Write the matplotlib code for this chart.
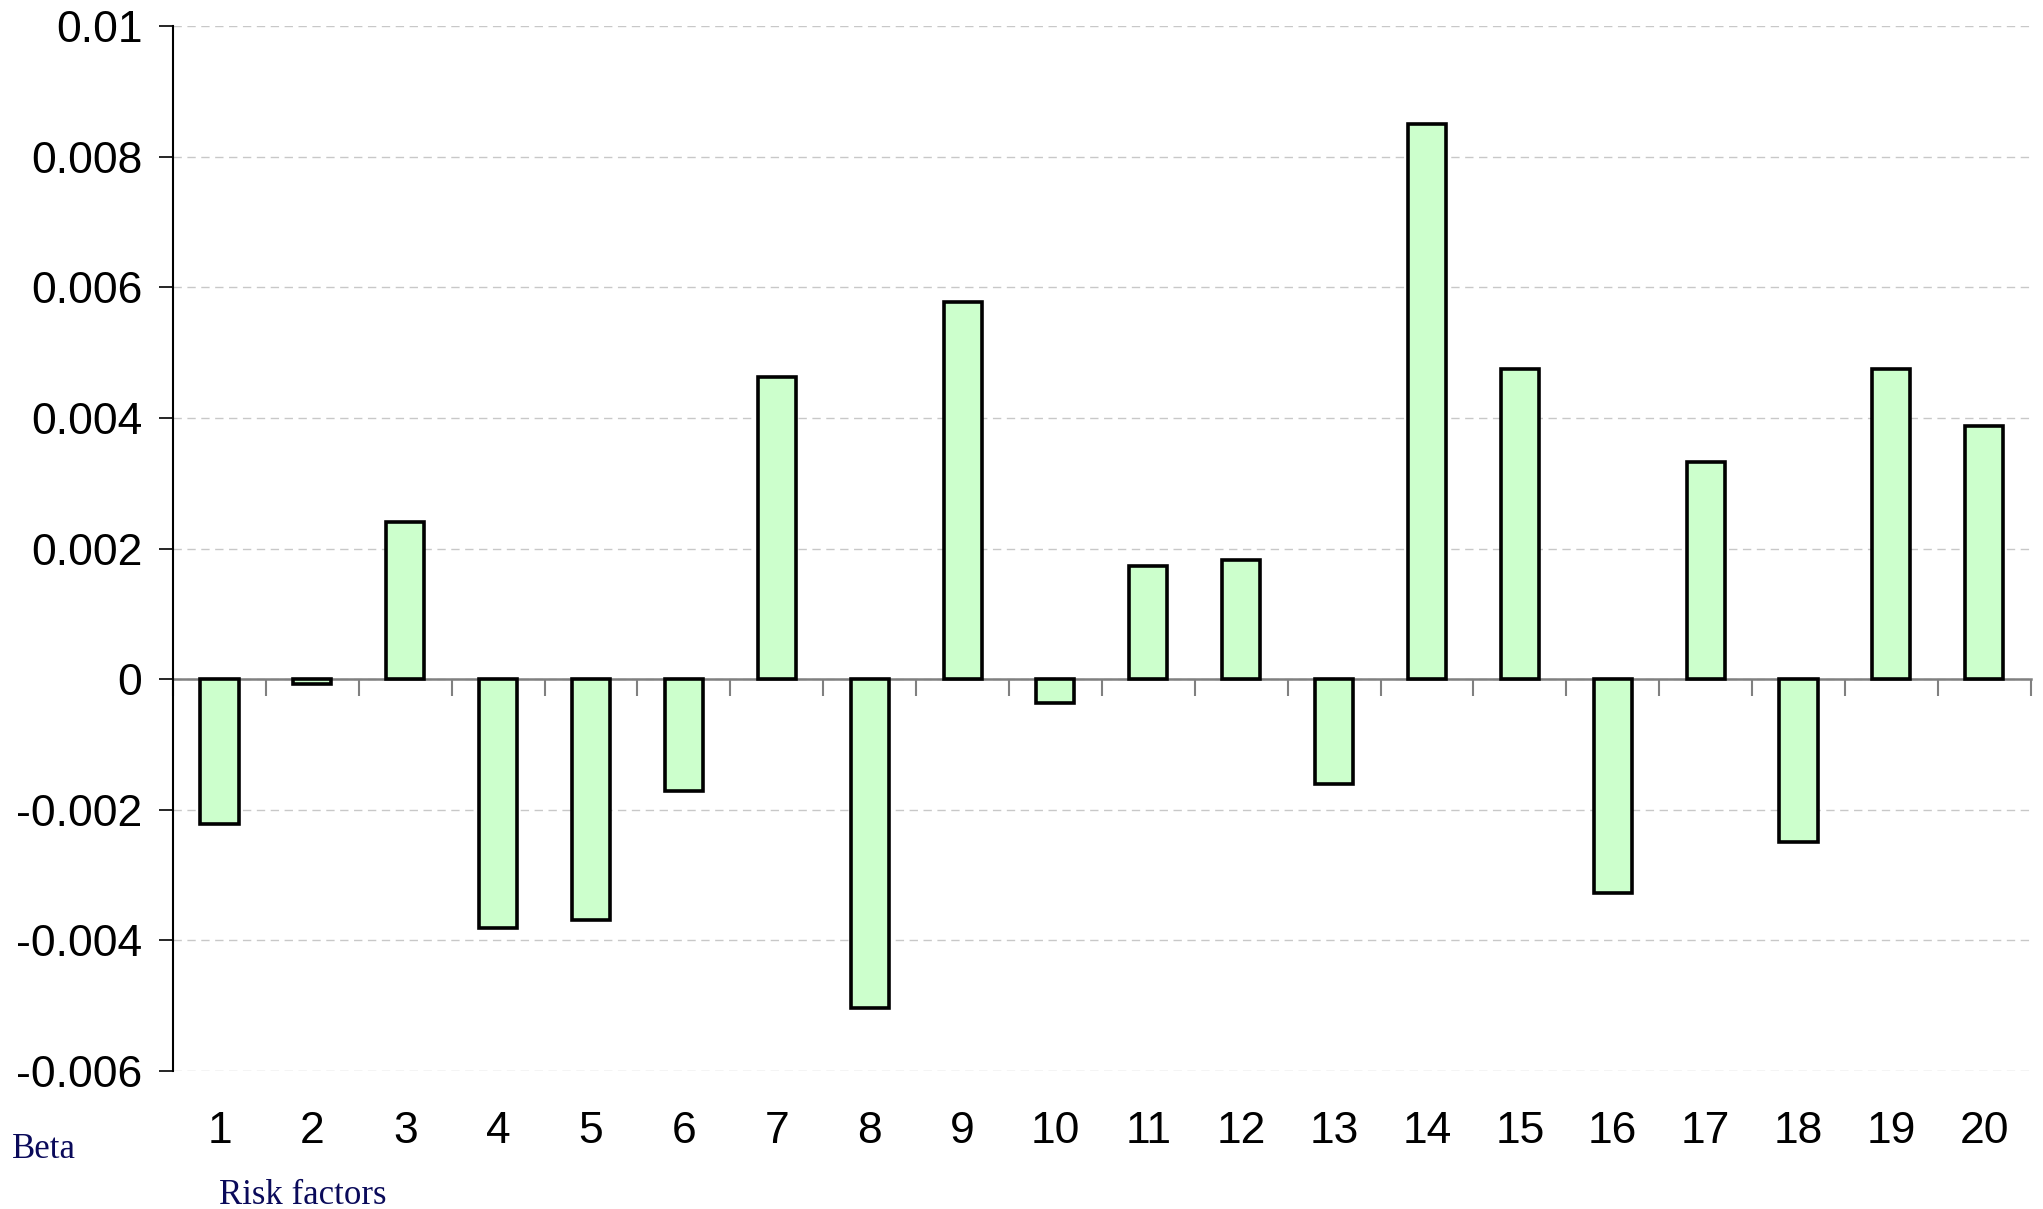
import numpy as np
import matplotlib
matplotlib.use("Agg")
import matplotlib.pyplot as plt

# Data
factors = list(range(1, 21))
beta = [-0.00222, -0.00008, 0.0024, -0.00381, -0.00369, -0.00172, 0.00463, -0.00503,
        0.00577, -0.00036, 0.00174, 0.00182, -0.0016, 0.0085, 0.00475, -0.00327,
        0.00333, -0.0025, 0.00475, 0.00387]
yticks = [-0.006, -0.004, -0.002, 0, 0.002, 0.004, 0.006, 0.008, 0.01]
ytick_labels = ["-0.006", "-0.004", "-0.002", "0", "0.002", "0.004", "0.006", "0.008", "0.01"]

plt.rcParams['font.family'] = ['Liberation Sans', 'DejaVu Sans']

fig = plt.figure(figsize=(20.43, 12.09), dpi=100)
ax = fig.add_axes([0.0847, 0.1141, 0.9093, 0.8644])

ax.bar(factors, beta, width=0.41, color='#CCFFCC', edgecolor='black', linewidth=2.6, zorder=3)

ax.set_xlim(0.5, 20.5)
ax.set_ylim(-0.006, 0.01)

# y axis
ax.set_yticks(yticks)
ax.set_yticklabels(ytick_labels, fontsize=32)
ax.tick_params(axis='y', direction='out', length=10, width=1.2, color='black', pad=12)
ax.yaxis.grid(True, linestyle=(0, (6, 4)), color='#c8c8c8', linewidth=1.0, zorder=0)

for s in ['top', 'right']:
    ax.spines[s].set_visible(False)
ax.spines['left'].set_linewidth(1.5)
ax.spines['left'].set_color('black')

# x axis line at zero, ticks between categories (drawn under the bars)
ax.spines['bottom'].set_position(('data', 0))
ax.spines['bottom'].set_color('#808080')
ax.spines['bottom'].set_linewidth(1.8)
ax.spines['bottom'].set_zorder(2)
ax.set_axisbelow(True)
ax.set_xticks(np.arange(0.5, 21, 1))
ax.set_xticklabels([])
ax.tick_params(axis='x', direction='out', length=12, width=1.5, color='#808080')

# category labels at the bottom
sec = ax.secondary_xaxis('bottom')
sec.spines['bottom'].set_visible(False)
sec.set_xticks(factors)
sec.set_xticklabels([str(f) for f in factors], fontsize=32)
sec.tick_params(axis='x', length=0, pad=29)

fig.text(12 / 2043, 1 - 1149 / 1209, "Beta", fontsize=25, color='#0a0a5a',
         family=['Liberation Serif'], va='center', ha='left')
fig.text(219 / 2043, 1 - 1195 / 1209, "Risk factors", fontsize=25, color='#0a0a5a',
         family=['Liberation Serif'], va='center', ha='left')

fig.savefig("out.png", dpi=100)
